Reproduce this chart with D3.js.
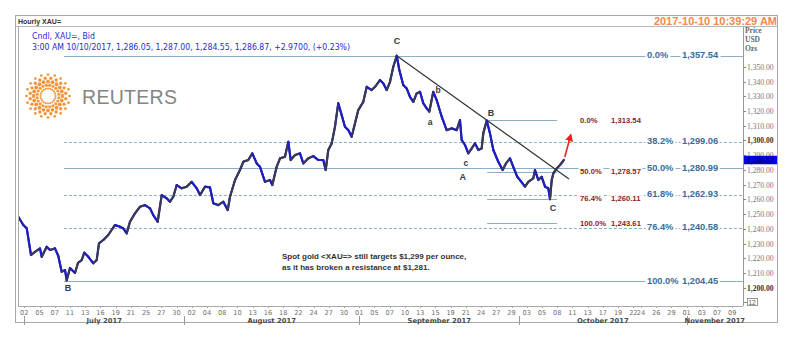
<!DOCTYPE html>
<html><head><meta charset="utf-8">
<script src="https://cdn.jsdelivr.net/npm/d3@7"></script>
<style>body{margin:0;background:#fff;}svg{display:block;font-family:"Liberation Sans",Arial,sans-serif;}</style>
</head><body><svg id="c" width="800" height="339"></svg>
<script>
// ---- data ----
const pathIdx = [-0.79,-0.13,0.32,0.88,1.41,2.06,2.29,2.94,3.38,4.03,
4.47,4.91,5.35,5.57,6.0,6.66,7.05,7.54,7.88,8.41,
9.06,9.51,9.81,10.38,11.03,11.91,12.57,13.0,13.45,13.88,
14.54,15.2,15.85,16.51,16.94,17.52,18.05,18.7,19.14,19.57,
20.02,20.67,21.33,21.99,22.65,23.08,23.74,24.39,24.83,25.48,
26.14,26.72,27.02,27.68,28.33,28.77,29.42,29.95,30.53,30.96,
31.62,32.28,32.58,33.15,33.59,34.24,34.68,34.99,35.56,36.21,
36.65,37.3,37.96,38.62,39.27,39.59,39.93,40.38,40.81,41.24,
41.69,42.12,42.56,43.0,43.44,43.87,44.53,44.98,45.63,46.07,
46.72,47.16,47.6,48.04,48.47,48.92,49.26,49.78,50.23,50.66,
51.1,51.54,51.98,52.41,52.86,53.2,53.72,54.17,54.83,55.48,
56.14,56.8,57.23,57.45,57.89,58.32,58.77,59.2,59.64,60.08,
60.29,60.74,61.17,61.61,62.26,62.84,63.27,63.8,64.23,64.76,
65.11,65.77,66.2,66.86,67.08,67.52,67.96,68.4,68.83,69.05,
69.28,69.49,69.94,70.37,70.9];
const pathPrice = [1248.2,1242.6,1240.3,1222.2,1224.4,1226.7,1221.0,1227.8,1225.6,1226.7,
1221.5,1210.9,1212.0,1205.0,1213.4,1210.0,1216.8,1218.8,1223.8,1221.0,
1216.6,1218.8,1230.1,1232.4,1235.8,1242.6,1241.4,1240.3,1236.9,1244.8,
1250.5,1255.0,1256.1,1253.9,1249.3,1244.8,1262.9,1260.7,1258.4,1261.8,
1269.7,1267.5,1268.6,1271.9,1267.5,1262.9,1268.6,1268.1,1257.3,1256.1,
1258.4,1252.7,1261.8,1273.1,1279.9,1285.5,1286.7,1291.2,1284.4,1282.1,
1271.9,1273.1,1269.7,1282.1,1287.8,1288.9,1299.1,1286.7,1290.1,1291.2,
1284.4,1287.8,1289.4,1286.7,1286.7,1279.9,1293.5,1298.0,1309.3,1325.2,
1317.2,1309.3,1307.0,1302.5,1311.6,1320.6,1326.2,1336.4,1334.2,1336.4,
1341.0,1338.7,1334.2,1339.8,1350.0,1357.5,1347.8,1337.6,1335.3,1329.6,
1326.2,1331.9,1333.0,1325.2,1321.8,1319.5,1333.0,1327.4,1316.1,1307.0,
1308.2,1307.0,1313.8,1300.3,1296.9,1291.2,1294.6,1298.0,1293.5,1294.6,
1304.8,1313.5,1304.8,1293.5,1285.5,1279.9,1284.4,1287.8,1282.1,1275.3,
1273.1,1268.6,1271.9,1274.3,1279.9,1273.1,1275.3,1268.6,1267.5,1260.1,
1273.1,1277.6,1281.0,1283.3,1286.9];

const fibPct = ["0.0%","38.2%","50.0%","61.8%","76.4%","100.0%"];
const fibVal = [1357.54,1299.06,1280.99,1262.93,1240.58,1204.45];
const fibDashed = [false,true,false,true,true,false];
const fibStartIdx = 5.2;

const redPct = ["0.0%","50.0%","76.4%","100.0%"];
const redVal = [1313.54,1278.57,1260.11,1243.61];
const redRangeIdx = [60.8, 70.0];

const waveText = ["C","b","a","c","A","B","C","B"];
const waveIdx = [48.95,54.34,53.3,58.0,57.6,61.3,69.45,5.74];
const wavePrice = [1366.8,1333.5,1311.8,1284.0,1274.5,1317.9,1253.4,1199.1];

const trendIdx = [48.92,71.55];
const trendPrice = [1357.5,1273.8];
const arrowIdx = [71.0,71.7];
const arrowPrice = [1288.7,1302.3];

const yTicks = d3.range(1200,1351,10);
const boldTicks = [1200,1300];
const lastPrice = 1286.87;

const tickDates = ["2017-07-02","2017-07-05","2017-07-07","2017-07-11","2017-07-13","2017-07-16","2017-07-19","2017-07-21","2017-07-25","2017-07-27","2017-07-30",
"2017-08-02","2017-08-04","2017-08-08","2017-08-10","2017-08-13","2017-08-16","2017-08-18","2017-08-22","2017-08-24","2017-08-27","2017-08-30",
"2017-09-01","2017-09-05","2017-09-07","2017-09-10","2017-09-13","2017-09-15","2017-09-19","2017-09-21","2017-09-24","2017-09-27","2017-09-29",
"2017-10-03","2017-10-05","2017-10-08","2017-10-11","2017-10-13","2017-10-17","2017-10-19","2017-10-22","2017-10-24","2017-10-26","2017-10-29",
"2017-11-01","2017-11-03","2017-11-07","2017-11-09"];
const monthNames = ["July 2017","August 2017","September 2017","October 2017","November 2017"];
const monthStarts = ["2017-07-01","2017-08-01","2017-09-01","2017-10-01","2017-11-01"];

const headerTitle = "Hourly XAU=";
const infoLines = ["Cndl, XAU=, Bid","3:00 AM 10/10/2017, 1,286.05, 1,287.00, 1,284.55, 1,286.87, +2.9700, (+0.23%)"];
const stamp = "2017-10-10 10:39:29 AM";
const note = ["Spot gold <XAU=> still targets $1,299 per ounce,","as it has broken a resistance at $1,281."];

// ---- layout ----
const P = {l:18, r:743, t:27, b:306};
const x = d3.scaleLinear().domain([0,93]).range([24.3,732.3]);
const y = d3.scaleLinear().domain([1187.6,1377]).range([P.b,P.t]);
const base = Date.UTC(2017,6,3);
function tIdx(s){
  let d = new Date(s+"T00:00:00Z");
  if(d.getUTCDay()===0) d = new Date(d.getTime()+864e5);
  let n=0;
  for(let t=base;t<d.getTime();t+=864e5){const w=new Date(t).getUTCDay(); if(w!==0&&w!==6) n++;}
  return n;
}

const svg = d3.select("#c");
svg.append("rect").attr("width",800).attr("height",339).attr("fill","#fff");
svg.append("rect").attr("x",15.5).attr("y",15.5).attr("width",762).attr("height",307).attr("fill","#fff").attr("stroke","#a8a8a8");
svg.append("line").attr("x1",15.5).attr("x2",777.5).attr("y1",26.5).attr("y2",26.5).attr("stroke","#b8b8b8");
svg.append("text").attr("x",18).attr("y",23.5).attr("font-size",7).attr("font-weight","bold").attr("fill","#333").text(headerTitle);
svg.append("text").attr("x",777).attr("y",25).attr("text-anchor","end").attr("font-size",11).attr("font-weight","bold").attr("fill","#f5884a").text(stamp);

svg.append("line").attr("x1",P.l+0.5).attr("x2",P.l+0.5).attr("y1",P.t).attr("y2",P.b).attr("stroke","#aaa");
svg.append("line").attr("x1",P.l).attr("x2",P.r).attr("y1",P.b+0.5).attr("y2",P.b+0.5).attr("stroke","#aaa");
svg.append("line").attr("x1",P.r+0.5).attr("x2",P.r+0.5).attr("y1",P.t).attr("y2",P.b).attr("stroke","#999");

svg.append("defs").append("clipPath").attr("id","pc").append("rect").attr("x",P.l+1).attr("y",P.t).attr("width",P.r-P.l-1).attr("height",P.b-P.t);

// Reuters logo
const logo = svg.append("g").attr("transform","translate(48,96)");
const ringR=[7.5,11,14.5,18,21.5], dotR=[1.1,1.55,1.9,1.7,1.35];
ringR.forEach((r,i)=>{
  const n=20;
  for(let k=0;k<n;k++){
    const a=(k+(i%2)*0.5)/n*2*Math.PI;
    logo.append("circle").attr("cx",r*Math.cos(a)).attr("cy",r*Math.sin(a)).attr("r",dotR[i]).attr("fill","#f4953a");
  }
});
svg.append("text").attr("x",82).attr("y",103.5).attr("font-size",19.5).attr("fill","#858585").attr("letter-spacing",0.3).text("REUTERS");

svg.append("text").attr("x",32).attr("y",39).attr("font-family","DejaVu Sans").attr("font-size",8).attr("fill","#2a2ad8").attr("textLength",63).attr("lengthAdjust","spacingAndGlyphs").text(infoLines[0]);
svg.append("text").attr("x",32).attr("y",50).attr("font-family","DejaVu Sans").attr("font-size",8).attr("fill","#2a2ad8").attr("textLength",318).attr("lengthAdjust","spacingAndGlyphs").text(infoLines[1]);

// fib lines
const fibG = svg.append("g");
fibVal.forEach((v,i)=>{
  fibG.append("line").attr("x1",x(fibStartIdx)).attr("x2",P.r).attr("y1",Math.round(y(v))+0.5).attr("y2",Math.round(y(v))+0.5)
    .attr("stroke","#8eaec6").attr("stroke-width",1).attr("stroke-dasharray",fibDashed[i]?"3,2":null);
});
redVal.forEach(v=>{
  fibG.append("line").attr("x1",x(redRangeIdx[0])).attr("x2",x(redRangeIdx[1])).attr("y1",Math.round(y(v))+0.5).attr("y2",Math.round(y(v))+0.5)
    .attr("stroke","#8eaec6").attr("stroke-width",1);
});

function boxedText(g,tx,ty,str,opts){
  const t = g.append("text").attr("x",tx).attr("y",ty).attr("dominant-baseline","middle")
    .attr("font-size",opts.size).attr("font-weight","bold").attr("fill",opts.fill).text(str);
  const bb = t.node().getBBox();
  g.insert("rect","text").attr("x",bb.x-1.5).attr("y",bb.y+1).attr("width",bb.width+3).attr("height",bb.height-2).attr("fill","#fff");
  return t;
}
const labG = svg.append("g");
fibVal.forEach((v,i)=>{
  boxedText(labG,647,y(v),fibPct[i],{size:9.3,fill:"#3b6c9a"});
  boxedText(labG,682,y(v),d3.format(",.2f")(v),{size:9.3,fill:"#3b6c9a"});
});
redVal.forEach((v,i)=>{
  boxedText(labG,580,y(v),redPct[i],{size:7.7,fill:"#8e2222"});
  boxedText(labG,611,y(v),d3.format(",.2f")(v),{size:7.7,fill:"#8e2222"});
});

// price path
const pts = pathIdx.map((d,i)=>[x(d),y(pathPrice[i])]);
const pg = svg.append("g").attr("clip-path","url(#pc)");
pg.append("path").attr("d",d3.line()(pts)).attr("fill","none").attr("stroke","#1c1ca8").attr("stroke-width",2.2).attr("stroke-linejoin","round");
for(let i=1;i<pts.length;i++){
  const up = pathPrice[i]>pathPrice[i-1];
  pg.append("line").attr("x1",pts[i-1][0]).attr("y1",pts[i-1][1]).attr("x2",pts[i][0]).attr("y2",pts[i][1])
    .attr("stroke",up?"#3a3a50":"#1f1fbf").attr("stroke-width",2).attr("stroke-linecap","round");
}

svg.append("line").attr("x1",x(trendIdx[0])).attr("y1",y(trendPrice[0])).attr("x2",x(trendIdx[1])).attr("y2",y(trendPrice[1]))
  .attr("stroke","#333").attr("stroke-width",1.2);

svg.select("defs").append("marker").attr("id","ah").attr("viewBox","0 0 10 10").attr("refX",5).attr("refY",5)
  .attr("markerWidth",5).attr("markerHeight",5).attr("orient","auto")
  .append("path").attr("d","M0,0L10,5L0,10z").attr("fill","#e8231a");
svg.append("line").attr("x1",x(arrowIdx[0])).attr("y1",y(arrowPrice[0])).attr("x2",x(arrowIdx[1])).attr("y2",y(arrowPrice[1]))
  .attr("stroke","#e8231a").attr("stroke-width",1.6).attr("marker-end","url(#ah)");

waveText.forEach((t,i)=>{
  svg.append("text").attr("x",x(waveIdx[i])).attr("y",y(wavePrice[i])).attr("text-anchor","middle").attr("dominant-baseline","middle")
    .attr("font-size",t===t.toUpperCase()?9:8.5).attr("font-weight","bold").attr("fill","#3a3a3a").text(t);
});

note.forEach((s,i)=>{
  svg.append("text").attr("x",282).attr("y",258.5+i*11).attr("font-size",8).attr("font-weight","bold").attr("fill","#333").text(s);
});

// y axis
const ya = svg.append("g");
yTicks.forEach(v=>{
  const yy=Math.round(y(v))+0.5;
  ya.append("line").attr("x1",P.r).attr("x2",P.r+3).attr("y1",yy).attr("y2",yy).attr("stroke","#888");
  const b = boldTicks.includes(v);
  ya.append("text").attr("x",P.r+4).attr("y",yy+2.6).attr("font-family","Liberation Serif").attr("font-size",7.6)
    .attr("font-weight",b?"bold":"normal").attr("fill",b?"#333":"#777").text(d3.format(",.2f")(v));
});
["Price","USD","Ozs"].forEach((s,i)=>{
  svg.append("text").attr("x",745).attr("y",33+i*9).attr("font-family","Liberation Serif").attr("font-size",7.5).attr("font-weight","bold").attr("fill","#666").text(s);
});
const ly = y(lastPrice);
svg.append("rect").attr("x",P.r+1).attr("y",ly-4).attr("width",33).attr("height",8.5).attr("fill","#0000f0");
svg.append("text").attr("x",P.r+4).attr("y",ly+2.8).attr("font-family","Liberation Serif").attr("font-size",7.6).attr("font-weight","bold").attr("fill","#00007a").text(d3.format(",.2f")(lastPrice));
svg.append("line").attr("x1",P.r).attr("x2",747).attr("y1",302.5).attr("y2",302.5).attr("stroke","#888");
svg.append("rect").attr("x",747.5).attr("y",298.5).attr("width",10).attr("height",7).attr("fill","#fff").attr("stroke","#999");
svg.append("text").attr("x",748.5).attr("y",304.5).attr("font-size",6.5).attr("fill","#555").text("12");

// x axis
const xa = svg.append("g");
tickDates.forEach(s=>{
  const xx = x(tIdx(s));
  xa.append("line").attr("x1",Math.round(xx)+0.5).attr("x2",Math.round(xx)+0.5).attr("y1",P.b).attr("y2",P.b+2).attr("stroke","#aaa");
  xa.append("text").attr("x",xx).attr("y",314.5).attr("text-anchor","middle").attr("font-family","DejaVu Sans").attr("font-size",6.6).attr("fill","#707070").text(s.slice(8));
});
monthStarts.forEach((s,i)=>{
  const x0 = x(tIdx(s));
  const x1 = i<monthStarts.length-1 ? x(tIdx(monthStarts[i+1])) : P.r;
  xa.append("line").attr("x1",Math.round(x0)+0.5).attr("x2",Math.round(x0)+0.5).attr("y1",316).attr("y2",325).attr("stroke","#999");
  xa.append("text").attr("x",(x0+x1)/2).attr("y",322.8).attr("text-anchor","middle").attr("font-family","DejaVu Sans").attr("font-size",6.8).attr("font-weight","bold").attr("fill","#4a4a4a").text(monthNames[i]);
});
</script></body></html>
